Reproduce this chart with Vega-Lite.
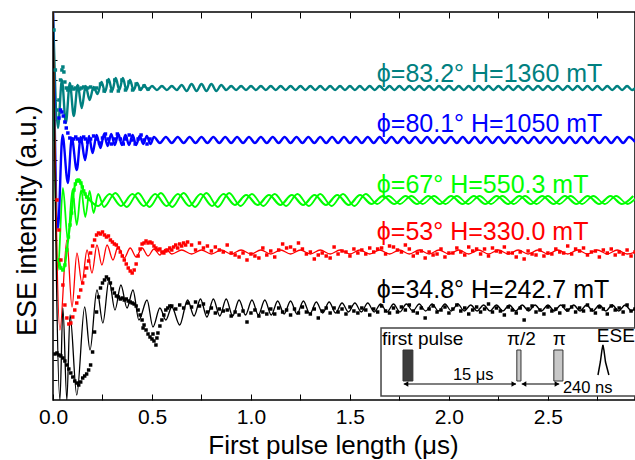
{
"$schema":"https://vega.github.io/schema/vega-lite/v6.json",
"width":582,"height":388,
"autosize":{"type":"none"},
"padding":{"left":53,"top":12,"right":0,"bottom":60},
"background":"white",
"config":{"view":{"stroke":"black","strokeWidth":1.5},"font":"Liberation Sans","axis":{"domain":false,"grid":false,"tickColor":"black","labelColor":"black","titleColor":"black","labelFont":"Liberation Sans","titleFont":"Liberation Sans","titleFontWeight":"normal"}},
"resolve":{"axis":{"x":"independent","y":"independent"}},
"datasets":{
"fit":[
{"s":"T","x":0,"y":388},{"s":"T","x":0.025,"y":272},{"s":"T","x":0.045,"y":320},{"s":"T","x":0.065,"y":277},{"s":"T","x":0.085,"y":317},{"s":"T","x":0.105,"y":284},{"s":"T","x":0.125,"y":315},{"s":"T","x":0.145,"y":292},{"s":"T","x":0.165,"y":314},{"s":"T","x":0.185,"y":300},{"s":"T","x":0.205,"y":313},{"s":"T","x":0.225,"y":306},{"s":"T","x":0.245,"y":318},{"s":"T","x":0.263,"y":308},{"s":"T","x":0.281,"y":321},{"s":"T","x":0.299,"y":309},{"s":"T","x":0.317,"y":322},{"s":"T","x":0.335,"y":310},{"s":"T","x":0.353,"y":322},{"s":"T","x":0.371,"y":310},{"s":"T","x":0.389,"y":320},{"s":"T","x":0.407,"y":310},{"s":"T","x":0.425,"y":317},{"s":"T","x":0.443,"y":310},{"s":"T","x":0.461,"y":315},{"s":"T","x":0.479,"y":310},
{"s":"T","x":0.5,"y":314},{"s":"T","x":0.525,"y":310},{"s":"T","x":0.55,"y":314},{"s":"T","x":0.575,"y":310},{"s":"T","x":0.6,"y":314},{"s":"T","x":0.625,"y":310},{"s":"T","x":0.65,"y":315},{"s":"T","x":0.675,"y":309},{"s":"T","x":0.7,"y":316},{"s":"T","x":0.725,"y":309},{"s":"T","x":0.75,"y":316},{"s":"T","x":0.775,"y":309},{"s":"T","x":0.8,"y":316},{"s":"T","x":0.825,"y":309},{"s":"T","x":0.85,"y":315},{"s":"T","x":0.875,"y":310},{"s":"T","x":0.9,"y":314},{"s":"T","x":0.925,"y":310},
{"s":"T","x":0.95,"y":314},{"s":"T","x":0.975,"y":310},{"s":"T","x":1.0,"y":314},{"s":"T","x":1.025,"y":310},{"s":"T","x":1.05,"y":314},{"s":"T","x":1.075,"y":310},{"s":"T","x":1.1,"y":314},{"s":"T","x":1.125,"y":310},{"s":"T","x":1.15,"y":314},{"s":"T","x":1.175,"y":310},{"s":"T","x":1.2,"y":314},{"s":"T","x":1.225,"y":310},{"s":"T","x":1.25,"y":314},{"s":"T","x":1.275,"y":310},{"s":"T","x":1.3,"y":314},{"s":"T","x":1.325,"y":310},{"s":"T","x":1.35,"y":314},{"s":"T","x":1.375,"y":310},{"s":"T","x":1.4,"y":314},{"s":"T","x":1.425,"y":310},{"s":"T","x":1.45,"y":314},{"s":"T","x":1.475,"y":310},{"s":"T","x":1.5,"y":314},{"s":"T","x":1.525,"y":310},{"s":"T","x":1.55,"y":314},{"s":"T","x":1.575,"y":310},{"s":"T","x":1.6,"y":314},{"s":"T","x":1.625,"y":310},{"s":"T","x":1.65,"y":314},{"s":"T","x":1.675,"y":310},{"s":"T","x":1.7,"y":314},{"s":"T","x":1.725,"y":310},{"s":"T","x":1.75,"y":314},{"s":"T","x":1.775,"y":310},{"s":"T","x":1.8,"y":314},{"s":"T","x":1.825,"y":310},{"s":"T","x":1.85,"y":314},{"s":"T","x":1.875,"y":310},{"s":"T","x":1.9,"y":314},{"s":"T","x":1.925,"y":310},{"s":"T","x":1.95,"y":314},{"s":"T","x":1.975,"y":310},{"s":"T","x":2.0,"y":314},{"s":"T","x":2.025,"y":310},{"s":"T","x":2.05,"y":314},{"s":"T","x":2.075,"y":310},{"s":"T","x":2.1,"y":314},{"s":"T","x":2.125,"y":310},{"s":"T","x":2.15,"y":314},{"s":"T","x":2.175,"y":310},{"s":"T","x":2.2,"y":314},{"s":"T","x":2.225,"y":310},{"s":"T","x":2.25,"y":314},{"s":"T","x":2.275,"y":310},{"s":"T","x":2.3,"y":314},{"s":"T","x":2.325,"y":310},{"s":"T","x":2.35,"y":314},{"s":"T","x":2.375,"y":310},{"s":"T","x":2.4,"y":314},{"s":"T","x":2.425,"y":310},{"s":"T","x":2.45,"y":314},{"s":"T","x":2.475,"y":310},{"s":"T","x":2.5,"y":314},{"s":"T","x":2.525,"y":310},{"s":"T","x":2.55,"y":314},{"s":"T","x":2.575,"y":310},{"s":"T","x":2.6,"y":314},{"s":"T","x":2.625,"y":310},{"s":"T","x":2.65,"y":314},{"s":"T","x":2.675,"y":310},{"s":"T","x":2.7,"y":314},{"s":"T","x":2.725,"y":310},{"s":"T","x":2.75,"y":314},{"s":"T","x":2.775,"y":310},{"s":"T","x":2.8,"y":314},{"s":"T","x":2.825,"y":310},{"s":"T","x":2.85,"y":314},{"s":"T","x":2.875,"y":310},{"s":"T","x":2.9,"y":314},{"s":"T","x":2.925,"y":310},{"s":"T","x":2.94,"y":312},
{"s":"B","x":0,"y":388},{"s":"B","x":0.025,"y":172},{"s":"B","x":0.048,"y":265},{"s":"B","x":0.075,"y":217},{"s":"B","x":0.095,"y":262},{"s":"B","x":0.12,"y":230},{"s":"B","x":0.14,"y":263},{"s":"B","x":0.162,"y":240},{"s":"B","x":0.182,"y":264},{"s":"B","x":0.2,"y":247},{"s":"B","x":0.22,"y":265},{"s":"B","x":0.24,"y":252},{"s":"B","x":0.258,"y":266},{"s":"B","x":0.276,"y":254},{"s":"B","x":0.294,"y":266},{"s":"B","x":0.312,"y":255},{"s":"B","x":0.33,"y":266},{"s":"B","x":0.348,"y":255},{"s":"B","x":0.366,"y":265},{"s":"B","x":0.384,"y":255},{"s":"B","x":0.402,"y":265},{"s":"B","x":0.42,"y":255},{"s":"B","x":0.438,"y":264},{"s":"B","x":0.456,"y":256},{"s":"B","x":0.474,"y":264},{"s":"B","x":0.492,"y":256},
{"s":"B","x":0.51,"y":263},{"s":"B","x":0.54,"y":257},{"s":"B","x":0.57,"y":263},{"s":"B","x":0.6,"y":257},{"s":"B","x":0.63,"y":263},{"s":"B","x":0.66,"y":257},{"s":"B","x":0.69,"y":263},{"s":"B","x":0.72,"y":257},{"s":"B","x":0.75,"y":263},{"s":"B","x":0.78,"y":257},{"s":"B","x":0.81,"y":263},{"s":"B","x":0.84,"y":257},{"s":"B","x":0.87,"y":263},{"s":"B","x":0.9,"y":257},{"s":"B","x":0.93,"y":263},{"s":"B","x":0.96,"y":257},{"s":"B","x":0.99,"y":263},{"s":"B","x":1.02,"y":257},{"s":"B","x":1.05,"y":263},{"s":"B","x":1.08,"y":257},{"s":"B","x":1.11,"y":263},{"s":"B","x":1.14,"y":257},{"s":"B","x":1.17,"y":263},{"s":"B","x":1.2,"y":257},{"s":"B","x":1.23,"y":263},{"s":"B","x":1.26,"y":257},{"s":"B","x":1.29,"y":263},{"s":"B","x":1.32,"y":257},{"s":"B","x":1.35,"y":263},{"s":"B","x":1.38,"y":257},{"s":"B","x":1.41,"y":263},{"s":"B","x":1.44,"y":257},{"s":"B","x":1.47,"y":263},{"s":"B","x":1.5,"y":257},{"s":"B","x":1.53,"y":263},{"s":"B","x":1.56,"y":257},{"s":"B","x":1.59,"y":263},{"s":"B","x":1.62,"y":257},{"s":"B","x":1.65,"y":263},{"s":"B","x":1.68,"y":257},{"s":"B","x":1.71,"y":263},{"s":"B","x":1.74,"y":257},{"s":"B","x":1.77,"y":263},{"s":"B","x":1.8,"y":257},{"s":"B","x":1.83,"y":263},{"s":"B","x":1.86,"y":257},{"s":"B","x":1.89,"y":263},{"s":"B","x":1.92,"y":257},{"s":"B","x":1.95,"y":263},{"s":"B","x":1.98,"y":257},{"s":"B","x":2.01,"y":263},{"s":"B","x":2.04,"y":257},{"s":"B","x":2.07,"y":263},{"s":"B","x":2.1,"y":257},{"s":"B","x":2.13,"y":263},{"s":"B","x":2.16,"y":257},{"s":"B","x":2.19,"y":263},{"s":"B","x":2.22,"y":257},{"s":"B","x":2.25,"y":263},{"s":"B","x":2.28,"y":257},{"s":"B","x":2.31,"y":263},{"s":"B","x":2.34,"y":257},{"s":"B","x":2.37,"y":263},{"s":"B","x":2.4,"y":257},{"s":"B","x":2.43,"y":263},{"s":"B","x":2.46,"y":257},{"s":"B","x":2.49,"y":263},{"s":"B","x":2.52,"y":257},{"s":"B","x":2.55,"y":263},{"s":"B","x":2.58,"y":257},{"s":"B","x":2.61,"y":263},{"s":"B","x":2.64,"y":257},{"s":"B","x":2.67,"y":263},{"s":"B","x":2.7,"y":257},{"s":"B","x":2.73,"y":263},{"s":"B","x":2.76,"y":257},{"s":"B","x":2.79,"y":263},{"s":"B","x":2.82,"y":257},{"s":"B","x":2.85,"y":263},{"s":"B","x":2.88,"y":257},{"s":"B","x":2.91,"y":263},{"s":"B","x":2.94,"y":258},
{"s":"G","x":0,"y":388},{"s":"G","x":0.025,"y":130},{"s":"G","x":0.05,"y":212},{"s":"G","x":0.075,"y":160},{"s":"G","x":0.098,"y":210},{"s":"G","x":0.12,"y":175},{"s":"G","x":0.142,"y":210},{"s":"G","x":0.163,"y":183},{"s":"G","x":0.185,"y":209},{"s":"G","x":0.205,"y":187},{"s":"G","x":0.228,"y":206},
{"s":"G","x":0.2575,"y":193},{"s":"G","x":0.315,"y":207},{"s":"G","x":0.3725,"y":193},{"s":"G","x":0.43,"y":207},{"s":"G","x":0.4875,"y":193},{"s":"G","x":0.545,"y":207},{"s":"G","x":0.6025,"y":193},{"s":"G","x":0.66,"y":207},{"s":"G","x":0.7175,"y":193},{"s":"G","x":0.775,"y":207},{"s":"G","x":0.8325,"y":193},{"s":"G","x":0.89,"y":207},{"s":"G","x":0.9475,"y":194},{"s":"G","x":1.005,"y":206},{"s":"G","x":1.0625,"y":194},{"s":"G","x":1.12,"y":206},{"s":"G","x":1.1775,"y":194},{"s":"G","x":1.235,"y":206},{"s":"G","x":1.2925,"y":194},{"s":"G","x":1.35,"y":206},{"s":"G","x":1.4075,"y":194},{"s":"G","x":1.465,"y":206},{"s":"G","x":1.5225,"y":194},{"s":"G","x":1.58,"y":206},{"s":"G","x":1.6375,"y":196},{"s":"G","x":1.695,"y":204},{"s":"G","x":1.7525,"y":196},{"s":"G","x":1.81,"y":204},{"s":"G","x":1.8675,"y":196},{"s":"G","x":1.925,"y":204},{"s":"G","x":1.9825,"y":196},{"s":"G","x":2.04,"y":204},{"s":"G","x":2.0975,"y":196},{"s":"G","x":2.155,"y":204},{"s":"G","x":2.2125,"y":196},{"s":"G","x":2.27,"y":204},{"s":"G","x":2.3275,"y":196},{"s":"G","x":2.385,"y":204},{"s":"G","x":2.4425,"y":196},{"s":"G","x":2.5,"y":204},{"s":"G","x":2.5575,"y":196},{"s":"G","x":2.615,"y":204},{"s":"G","x":2.6725,"y":196},{"s":"G","x":2.73,"y":204},{"s":"G","x":2.7875,"y":196},{"s":"G","x":2.845,"y":204},{"s":"G","x":2.9025,"y":196},{"s":"G","x":2.94,"y":201},
{"s":"R","x":0,"y":388},{"s":"R","x":0.035,"y":70},{"s":"R","x":0.07,"y":160},{"s":"R","x":0.096,"y":93},{"s":"R","x":0.121,"y":147},{"s":"R","x":0.146,"y":117},{"s":"R","x":0.172,"y":150},{"s":"R","x":0.197,"y":127},{"s":"R","x":0.222,"y":155},{"s":"R","x":0.247,"y":135},{"s":"R","x":0.273,"y":155},{"s":"R","x":0.303,"y":140},{"s":"R","x":0.328,"y":153},{"s":"R","x":0.36,"y":142},{"s":"R","x":0.39,"y":152},{"s":"R","x":0.42,"y":143},{"s":"R","x":0.45,"y":152},{"s":"R","x":0.48,"y":144},{"s":"R","x":0.51,"y":151},{"s":"R","x":0.54,"y":145},{"s":"R","x":0.57,"y":151},
{"s":"R","x":0.6,"y":146},{"s":"R","x":0.65,"y":150},{"s":"R","x":0.7,"y":146},{"s":"R","x":0.75,"y":150},{"s":"R","x":0.8,"y":146},{"s":"R","x":0.85,"y":150},{"s":"R","x":0.9,"y":146},{"s":"R","x":0.95,"y":150},{"s":"R","x":1.0,"y":146},{"s":"R","x":1.05,"y":150},{"s":"R","x":1.1,"y":146},{"s":"R","x":1.15,"y":150},{"s":"R","x":1.2,"y":146},{"s":"R","x":1.25,"y":150},{"s":"R","x":1.3,"y":146},{"s":"R","x":1.35,"y":150},{"s":"R","x":1.4,"y":146},{"s":"R","x":1.45,"y":150},{"s":"R","x":1.5,"y":146},{"s":"R","x":1.55,"y":150},{"s":"R","x":1.6,"y":146},{"s":"R","x":1.65,"y":150},{"s":"R","x":1.7,"y":146},{"s":"R","x":1.75,"y":150},{"s":"R","x":1.8,"y":146},{"s":"R","x":1.85,"y":150},{"s":"R","x":1.9,"y":146},{"s":"R","x":1.95,"y":150},{"s":"R","x":2.0,"y":146},{"s":"R","x":2.05,"y":150},{"s":"R","x":2.1,"y":146},{"s":"R","x":2.15,"y":150},{"s":"R","x":2.2,"y":146},{"s":"R","x":2.25,"y":150},{"s":"R","x":2.3,"y":146},{"s":"R","x":2.35,"y":150},{"s":"R","x":2.4,"y":146},{"s":"R","x":2.45,"y":150},{"s":"R","x":2.5,"y":146},{"s":"R","x":2.55,"y":150},{"s":"R","x":2.6,"y":146},{"s":"R","x":2.65,"y":150},{"s":"R","x":2.7,"y":146},{"s":"R","x":2.75,"y":150},{"s":"R","x":2.8,"y":146},{"s":"R","x":2.85,"y":150},{"s":"R","x":2.9,"y":146},{"s":"R","x":2.94,"y":148},
{"s":"K","x":0,"y":388},{"s":"K","x":0.035,"y":0},{"s":"K","x":0.05,"y":92},{"s":"K","x":0.07,"y":0},{"s":"K","x":0.086,"y":85},{"s":"K","x":0.12,"y":5},{"s":"K","x":0.16,"y":93},{"s":"K","x":0.187,"y":50},{"s":"K","x":0.222,"y":110},{"s":"K","x":0.252,"y":77},{"s":"K","x":0.283,"y":120},{"s":"K","x":0.313,"y":90},{"s":"K","x":0.343,"y":115},{"s":"K","x":0.374,"y":92},{"s":"K","x":0.404,"y":110},{"s":"K","x":0.434,"y":80},{"s":"K","x":0.475,"y":100},{"s":"K","x":0.505,"y":73},{"s":"K","x":0.54,"y":92},{"s":"K","x":0.57,"y":80},{"s":"K","x":0.6,"y":93},{"s":"K","x":0.64,"y":75},{"s":"K","x":0.68,"y":100},
{"s":"K","x":0.7125,"y":84},{"s":"K","x":0.745,"y":101},{"s":"K","x":0.7775,"y":83},{"s":"K","x":0.81,"y":101},{"s":"K","x":0.8425,"y":84},{"s":"K","x":0.875,"y":101},{"s":"K","x":0.9075,"y":84},{"s":"K","x":0.94,"y":100},{"s":"K","x":0.9725,"y":85},{"s":"K","x":1.005,"y":100},{"s":"K","x":1.0375,"y":85},{"s":"K","x":1.07,"y":100},{"s":"K","x":1.1025,"y":85},{"s":"K","x":1.135,"y":99},{"s":"K","x":1.1675,"y":86},{"s":"K","x":1.2,"y":99},{"s":"K","x":1.2325,"y":86},{"s":"K","x":1.265,"y":99},{"s":"K","x":1.2975,"y":86},{"s":"K","x":1.33,"y":98},{"s":"K","x":1.3625,"y":87},{"s":"K","x":1.395,"y":98},{"s":"K","x":1.4275,"y":87},{"s":"K","x":1.46,"y":97},{"s":"K","x":1.4925,"y":88},{"s":"K","x":1.525,"y":97},{"s":"K","x":1.5575,"y":88},{"s":"K","x":1.59,"y":97},{"s":"K","x":1.6225,"y":88},{"s":"K","x":1.655,"y":96},{"s":"K","x":1.6875,"y":88},{"s":"K","x":1.72,"y":96},{"s":"K","x":1.7525,"y":88},{"s":"K","x":1.785,"y":96},{"s":"K","x":1.8175,"y":89},{"s":"K","x":1.85,"y":96},{"s":"K","x":1.8825,"y":89},{"s":"K","x":1.915,"y":96},{"s":"K","x":1.9475,"y":89},{"s":"K","x":1.98,"y":96},{"s":"K","x":2.0125,"y":89},{"s":"K","x":2.045,"y":96},{"s":"K","x":2.0775,"y":89},{"s":"K","x":2.11,"y":95},{"s":"K","x":2.1425,"y":89},{"s":"K","x":2.175,"y":95},{"s":"K","x":2.2075,"y":89},{"s":"K","x":2.24,"y":95},{"s":"K","x":2.2725,"y":89},{"s":"K","x":2.305,"y":95},{"s":"K","x":2.3375,"y":89},{"s":"K","x":2.37,"y":95},{"s":"K","x":2.4025,"y":89},{"s":"K","x":2.435,"y":95},{"s":"K","x":2.4675,"y":89},{"s":"K","x":2.5,"y":95},{"s":"K","x":2.5325,"y":89},{"s":"K","x":2.565,"y":95},{"s":"K","x":2.5975,"y":89},{"s":"K","x":2.63,"y":95},{"s":"K","x":2.6625,"y":89},{"s":"K","x":2.695,"y":95},{"s":"K","x":2.7275,"y":89},{"s":"K","x":2.76,"y":95},{"s":"K","x":2.7925,"y":89},{"s":"K","x":2.825,"y":95},{"s":"K","x":2.8575,"y":89},{"s":"K","x":2.89,"y":95},{"s":"K","x":2.9225,"y":89},{"s":"K","x":2.94,"y":92}
],
"dat":[
{"s":"T","x":0.005,"y":370},{"s":"T","x":0.012,"y":330},{"s":"T","x":0.02,"y":290},{"s":"T","x":0.03,"y":300},{"s":"T","x":0.038,"y":320},{"s":"T","x":0.045,"y":330},{"s":"T","x":0.05,"y":333},{"s":"T","x":0.055,"y":328},{"s":"T","x":0.06,"y":318},{"s":"T","x":0.067,"y":312},{"s":"T","x":0.075,"y":310},{"s":"T","x":0.085,"y":312},{"s":"T","x":0.095,"y":313},{"s":"T","x":0.105,"y":311},{"s":"T","x":0.115,"y":312},{"s":"T","x":0.125,"y":313},{"s":"T","x":0.135,"y":311},{"s":"T","x":0.145,"y":312},{"s":"T","x":0.155,"y":313},{"s":"T","x":0.165,"y":311},{"s":"T","x":0.175,"y":312},{"s":"T","x":0.19,"y":313},{"s":"T","x":0.205,"y":311},{"s":"T","x":0.22,"y":312},{"s":"T","x":0.24,"y":316},{"s":"T","x":0.258,"y":309},{"s":"T","x":0.276,"y":319},{"s":"T","x":0.294,"y":309},{"s":"T","x":0.312,"y":320},{"s":"T","x":0.33,"y":309},{"s":"T","x":0.348,"y":320},{"s":"T","x":0.366,"y":310},{"s":"T","x":0.384,"y":318},{"s":"T","x":0.402,"y":310},{"s":"T","x":0.42,"y":316},{"s":"T","x":0.44,"y":311},{"s":"T","x":0.46,"y":314},{"s":"T","x":0.48,"y":311},
{"s":"B","x":0.03,"y":282},{"s":"B","x":0.038,"y":290},{"s":"B","x":0.045,"y":288},{"s":"B","x":0.052,"y":284},{"s":"B","x":0.06,"y":278},{"s":"B","x":0.067,"y":272},{"s":"B","x":0.075,"y":267},{"s":"B","x":0.085,"y":262},{"s":"B","x":0.095,"y":259},{"s":"B","x":0.105,"y":261},{"s":"B","x":0.115,"y":263},{"s":"B","x":0.125,"y":261},{"s":"B","x":0.135,"y":259},{"s":"B","x":0.145,"y":261},{"s":"B","x":0.155,"y":263},{"s":"B","x":0.165,"y":261},{"s":"B","x":0.175,"y":258},{"s":"B","x":0.19,"y":261},{"s":"B","x":0.205,"y":264},{"s":"B","x":0.22,"y":261},{"s":"B","x":0.235,"y":257},{"s":"B","x":0.25,"y":262},{"s":"B","x":0.265,"y":266},{"s":"B","x":0.28,"y":261},{"s":"B","x":0.295,"y":256},{"s":"B","x":0.31,"y":261},{"s":"B","x":0.325,"y":266},{"s":"B","x":0.34,"y":261},{"s":"B","x":0.355,"y":256},{"s":"B","x":0.37,"y":261},{"s":"B","x":0.385,"y":265},{"s":"B","x":0.4,"y":260},{"s":"B","x":0.415,"y":256},{"s":"B","x":0.43,"y":261},{"s":"B","x":0.445,"y":265},{"s":"B","x":0.46,"y":260},{"s":"B","x":0.475,"y":256},{"s":"B","x":0.49,"y":261},
{"s":"G","x":0.03,"y":140},{"s":"G","x":0.04,"y":132},{"s":"G","x":0.05,"y":130},{"s":"G","x":0.06,"y":135},{"s":"G","x":0.07,"y":150},{"s":"G","x":0.078,"y":163},{"s":"G","x":0.086,"y":175},{"s":"G","x":0.094,"y":187},{"s":"G","x":0.1,"y":200},{"s":"G","x":0.106,"y":210},{"s":"G","x":0.113,"y":216},{"s":"G","x":0.12,"y":219},{"s":"G","x":0.127,"y":220},{"s":"G","x":0.134,"y":219},{"s":"G","x":0.141,"y":217},{"s":"G","x":0.148,"y":213},{"s":"G","x":0.155,"y":209},{"s":"G","x":0.162,"y":206},{"s":"G","x":0.17,"y":203},{"s":"G","x":0.18,"y":201},
{"s":"G","x":0.2285,"y":194},{"s":"G","x":0.286,"y":206},{"s":"G","x":0.3435,"y":194},{"s":"G","x":0.401,"y":206},{"s":"G","x":0.4585,"y":194},{"s":"G","x":0.516,"y":206},{"s":"G","x":0.5735,"y":194},{"s":"G","x":0.631,"y":206},{"s":"G","x":0.6885,"y":194},{"s":"G","x":0.746,"y":206},{"s":"G","x":0.8035,"y":194},{"s":"G","x":0.861,"y":206},{"s":"G","x":0.9185,"y":195},{"s":"G","x":0.976,"y":205},{"s":"G","x":1.0335,"y":195},{"s":"G","x":1.091,"y":205},{"s":"G","x":1.1485,"y":195},{"s":"G","x":1.206,"y":205},{"s":"G","x":1.2635,"y":195},{"s":"G","x":1.321,"y":205},{"s":"G","x":1.3785,"y":195},{"s":"G","x":1.436,"y":205},{"s":"G","x":1.4935,"y":195},{"s":"G","x":1.551,"y":205},{"s":"G","x":1.6085,"y":196},{"s":"G","x":1.666,"y":204},{"s":"G","x":1.7235,"y":196},{"s":"G","x":1.781,"y":204},{"s":"G","x":1.8385,"y":196},{"s":"G","x":1.896,"y":204},{"s":"G","x":1.9535,"y":196},{"s":"G","x":2.011,"y":204},{"s":"G","x":2.0685,"y":196},{"s":"G","x":2.126,"y":204},{"s":"G","x":2.1835,"y":196},{"s":"G","x":2.241,"y":204},{"s":"G","x":2.2985,"y":196},{"s":"G","x":2.356,"y":204},{"s":"G","x":2.4135,"y":196},{"s":"G","x":2.471,"y":204},{"s":"G","x":2.5285,"y":196},{"s":"G","x":2.586,"y":204},{"s":"G","x":2.6435,"y":196},{"s":"G","x":2.701,"y":204},{"s":"G","x":2.7585,"y":196},{"s":"G","x":2.816,"y":204},{"s":"G","x":2.8735,"y":196},{"s":"G","x":2.931,"y":204},
{"s":"R","x":0.02,"y":200},{"s":"R","x":0.03,"y":170},{"s":"R","x":0.04,"y":140},{"s":"R","x":0.05,"y":115},{"s":"R","x":0.06,"y":95},{"s":"R","x":0.07,"y":82},{"s":"R","x":0.08,"y":76},{"s":"R","x":0.09,"y":77},{"s":"R","x":0.1,"y":83},{"s":"R","x":0.11,"y":90},{"s":"R","x":0.12,"y":97},{"s":"R","x":0.13,"y":103},{"s":"R","x":0.14,"y":110},{"s":"R","x":0.15,"y":117},{"s":"R","x":0.16,"y":124},{"s":"R","x":0.17,"y":132},{"s":"R","x":0.18,"y":139},{"s":"R","x":0.19,"y":147},{"s":"R","x":0.2,"y":154},{"s":"R","x":0.21,"y":160},{"s":"R","x":0.22,"y":165},{"s":"R","x":0.23,"y":167},{"s":"R","x":0.24,"y":166},{"s":"R","x":0.25,"y":168},{"s":"R","x":0.26,"y":165},{"s":"R","x":0.27,"y":163},{"s":"R","x":0.28,"y":164},{"s":"R","x":0.29,"y":160},{"s":"R","x":0.3,"y":158},{"s":"R","x":0.31,"y":156},{"s":"R","x":0.32,"y":155},{"s":"R","x":0.33,"y":152},{"s":"R","x":0.34,"y":148},{"s":"R","x":0.35,"y":144},{"s":"R","x":0.36,"y":140},{"s":"R","x":0.37,"y":136},{"s":"R","x":0.38,"y":132},{"s":"R","x":0.39,"y":129},{"s":"R","x":0.4,"y":127},{"s":"R","x":0.41,"y":130},{"s":"R","x":0.42,"y":136},{"s":"R","x":0.43,"y":144},{"s":"R","x":0.44,"y":151},{"s":"R","x":0.45,"y":156},{"s":"R","x":0.46,"y":157},{"s":"R","x":0.47,"y":159},{"s":"R","x":0.48,"y":157},{"s":"R","x":0.49,"y":158},{"s":"R","x":0.5,"y":157},{"s":"R","x":0.51,"y":154},{"s":"R","x":0.52,"y":152},{"s":"R","x":0.53,"y":150},{"s":"R","x":0.54,"y":151},{"s":"R","x":0.55,"y":148},{"s":"R","x":0.56,"y":147},{"s":"R","x":0.57,"y":149},{"s":"R","x":0.58,"y":150},{"s":"R","x":0.59,"y":152},{"s":"R","x":0.6,"y":150},{"s":"R","x":0.61,"y":153},{"s":"R","x":0.62,"y":155},{"s":"R","x":0.63,"y":152},{"s":"R","x":0.64,"y":156},{"s":"R","x":0.65,"y":154},{"s":"R","x":0.66,"y":157},{"s":"R","x":0.67,"y":155},{"s":"R","x":0.68,"y":158},
{"s":"R","x":0.7,"y":155},{"s":"R","x":0.72,"y":150},{"s":"R","x":0.74,"y":157},{"s":"R","x":0.76,"y":152},{"s":"R","x":0.78,"y":154},{"s":"R","x":0.8,"y":149},{"s":"R","x":0.82,"y":153},{"s":"R","x":0.84,"y":150},{"s":"R","x":0.86,"y":148},{"s":"R","x":0.88,"y":155},{"s":"R","x":0.9,"y":147},{"s":"R","x":0.92,"y":145},{"s":"R","x":0.94,"y":143},{"s":"R","x":0.96,"y":147},{"s":"R","x":0.98,"y":140},{"s":"R","x":1.0,"y":146},{"s":"R","x":1.02,"y":144},{"s":"R","x":1.04,"y":142},{"s":"R","x":1.06,"y":152},{"s":"R","x":1.08,"y":145},{"s":"R","x":1.1,"y":149},{"s":"R","x":1.12,"y":143},{"s":"R","x":1.14,"y":150},{"s":"R","x":1.16,"y":156},{"s":"R","x":1.18,"y":152},{"s":"R","x":1.2,"y":153},{"s":"R","x":1.22,"y":150},{"s":"R","x":1.24,"y":157},{"s":"R","x":1.26,"y":151},{"s":"R","x":1.28,"y":146},{"s":"R","x":1.3,"y":148},{"s":"R","x":1.32,"y":141},{"s":"R","x":1.34,"y":145},{"s":"R","x":1.36,"y":147},{"s":"R","x":1.38,"y":144},{"s":"R","x":1.4,"y":142},{"s":"R","x":1.42,"y":153},{"s":"R","x":1.44,"y":146},{"s":"R","x":1.46,"y":149},{"s":"R","x":1.48,"y":148},{"s":"R","x":1.5,"y":144},{"s":"R","x":1.52,"y":151},{"s":"R","x":1.54,"y":147},{"s":"R","x":1.56,"y":150},{"s":"R","x":1.58,"y":146},{"s":"R","x":1.6,"y":152},{"s":"R","x":1.62,"y":148},{"s":"R","x":1.64,"y":151},{"s":"R","x":1.66,"y":152},{"s":"R","x":1.68,"y":146},{"s":"R","x":1.7,"y":154},{"s":"R","x":1.72,"y":153},{"s":"R","x":1.74,"y":150},{"s":"R","x":1.76,"y":148},{"s":"R","x":1.78,"y":155},{"s":"R","x":1.8,"y":151},{"s":"R","x":1.82,"y":144},{"s":"R","x":1.84,"y":147},{"s":"R","x":1.86,"y":149},{"s":"R","x":1.88,"y":142},{"s":"R","x":1.9,"y":148},{"s":"R","x":1.92,"y":145},{"s":"R","x":1.94,"y":146},{"s":"R","x":1.96,"y":151},{"s":"R","x":1.98,"y":143},{"s":"R","x":2.0,"y":147},{"s":"R","x":2.02,"y":147},{"s":"R","x":2.04,"y":152},{"s":"R","x":2.06,"y":148},{"s":"R","x":2.08,"y":145},{"s":"R","x":2.1,"y":153},{"s":"R","x":2.12,"y":149},{"s":"R","x":2.14,"y":151},{"s":"R","x":2.16,"y":146},{"s":"R","x":2.18,"y":151},{"s":"R","x":2.2,"y":144},{"s":"R","x":2.22,"y":152},{"s":"R","x":2.24,"y":149},{"s":"R","x":2.26,"y":148},{"s":"R","x":2.28,"y":153},{"s":"R","x":2.3,"y":147},{"s":"R","x":2.32,"y":147},{"s":"R","x":2.34,"y":143},{"s":"R","x":2.36,"y":148},{"s":"R","x":2.38,"y":141},{"s":"R","x":2.4,"y":149},{"s":"R","x":2.42,"y":146},{"s":"R","x":2.44,"y":145},{"s":"R","x":2.46,"y":150},{"s":"R","x":2.48,"y":144},{"s":"R","x":2.5,"y":147},{"s":"R","x":2.52,"y":146},{"s":"R","x":2.54,"y":151},{"s":"R","x":2.56,"y":148},{"s":"R","x":2.58,"y":147},{"s":"R","x":2.6,"y":154},{"s":"R","x":2.62,"y":146},{"s":"R","x":2.64,"y":151},{"s":"R","x":2.66,"y":149},{"s":"R","x":2.68,"y":152},{"s":"R","x":2.7,"y":145},{"s":"R","x":2.72,"y":148},{"s":"R","x":2.74,"y":149},{"s":"R","x":2.76,"y":143},{"s":"R","x":2.78,"y":150},{"s":"R","x":2.8,"y":147},{"s":"R","x":2.82,"y":151},{"s":"R","x":2.84,"y":145},{"s":"R","x":2.86,"y":148},{"s":"R","x":2.88,"y":146},{"s":"R","x":2.9,"y":150},{"s":"R","x":2.92,"y":144},{"s":"R","x":2.94,"y":148},
{"s":"K","x":0.01,"y":46},{"s":"K","x":0.02,"y":47},{"s":"K","x":0.03,"y":45},{"s":"K","x":0.04,"y":44},{"s":"K","x":0.05,"y":42},{"s":"K","x":0.06,"y":39},{"s":"K","x":0.07,"y":35},{"s":"K","x":0.08,"y":31},{"s":"K","x":0.09,"y":27},{"s":"K","x":0.1,"y":23},{"s":"K","x":0.11,"y":19},{"s":"K","x":0.12,"y":17},{"s":"K","x":0.13,"y":15},{"s":"K","x":0.14,"y":18},{"s":"K","x":0.15,"y":22},{"s":"K","x":0.16,"y":24},{"s":"K","x":0.17,"y":26},{"s":"K","x":0.18,"y":30},{"s":"K","x":0.19,"y":35},{"s":"K","x":0.2,"y":48},{"s":"K","x":0.21,"y":68},{"s":"K","x":0.22,"y":88},{"s":"K","x":0.23,"y":103},{"s":"K","x":0.24,"y":112},{"s":"K","x":0.25,"y":117},{"s":"K","x":0.26,"y":120},{"s":"K","x":0.27,"y":123},{"s":"K","x":0.28,"y":121},{"s":"K","x":0.29,"y":117},{"s":"K","x":0.3,"y":111},{"s":"K","x":0.31,"y":107},{"s":"K","x":0.32,"y":104},{"s":"K","x":0.33,"y":103},{"s":"K","x":0.34,"y":101},{"s":"K","x":0.35,"y":102},{"s":"K","x":0.36,"y":100},{"s":"K","x":0.37,"y":101},{"s":"K","x":0.38,"y":99},{"s":"K","x":0.39,"y":98},{"s":"K","x":0.4,"y":97},{"s":"K","x":0.41,"y":96},{"s":"K","x":0.42,"y":94},{"s":"K","x":0.43,"y":90},{"s":"K","x":0.44,"y":85},{"s":"K","x":0.45,"y":80},{"s":"K","x":0.455,"y":72},{"s":"K","x":0.46,"y":75},{"s":"K","x":0.47,"y":70},{"s":"K","x":0.48,"y":66},{"s":"K","x":0.49,"y":63},{"s":"K","x":0.5,"y":61},{"s":"K","x":0.505,"y":66},{"s":"K","x":0.51,"y":59},{"s":"K","x":0.52,"y":55},{"s":"K","x":0.525,"y":62},{"s":"K","x":0.53,"y":67},{"s":"K","x":0.54,"y":74},{"s":"K","x":0.55,"y":80},{"s":"K","x":0.56,"y":85},{"s":"K","x":0.57,"y":90},{"s":"K","x":0.58,"y":92},{"s":"K","x":0.59,"y":94},
{"s":"K","x":0.6,"y":94},{"s":"K","x":0.62,"y":91},{"s":"K","x":0.64,"y":95},{"s":"K","x":0.66,"y":92},{"s":"K","x":0.68,"y":97},{"s":"K","x":0.7,"y":93},{"s":"K","x":0.72,"y":98},{"s":"K","x":0.74,"y":94},{"s":"K","x":0.76,"y":96},{"s":"K","x":0.78,"y":88},{"s":"K","x":0.8,"y":92},{"s":"K","x":0.82,"y":87},{"s":"K","x":0.84,"y":91},{"s":"K","x":0.86,"y":89},{"s":"K","x":0.88,"y":90},{"s":"K","x":0.9,"y":84},{"s":"K","x":0.92,"y":88},{"s":"K","x":0.94,"y":85},{"s":"K","x":0.96,"y":89},{"s":"K","x":0.98,"y":78},{"s":"K","x":1.0,"y":87},{"s":"K","x":1.02,"y":90},{"s":"K","x":1.04,"y":84},{"s":"K","x":1.06,"y":88},{"s":"K","x":1.08,"y":86},{"s":"K","x":1.1,"y":91},{"s":"K","x":1.12,"y":86},{"s":"K","x":1.14,"y":92},{"s":"K","x":1.16,"y":88},{"s":"K","x":1.18,"y":90},{"s":"K","x":1.2,"y":85},{"s":"K","x":1.22,"y":91},{"s":"K","x":1.24,"y":87},{"s":"K","x":1.26,"y":93},{"s":"K","x":1.28,"y":88},{"s":"K","x":1.3,"y":86},{"s":"K","x":1.32,"y":91},{"s":"K","x":1.34,"y":82},{"s":"K","x":1.36,"y":89},{"s":"K","x":1.38,"y":92},{"s":"K","x":1.4,"y":87},{"s":"K","x":1.42,"y":92},{"s":"K","x":1.44,"y":88},{"s":"K","x":1.46,"y":91},{"s":"K","x":1.48,"y":86},{"s":"K","x":1.5,"y":93},{"s":"K","x":1.52,"y":89},{"s":"K","x":1.54,"y":87},{"s":"K","x":1.56,"y":92},{"s":"K","x":1.58,"y":90},{"s":"K","x":1.6,"y":85},{"s":"K","x":1.62,"y":91},{"s":"K","x":1.64,"y":88},{"s":"K","x":1.66,"y":94},{"s":"K","x":1.68,"y":89},{"s":"K","x":1.7,"y":87},{"s":"K","x":1.72,"y":92},{"s":"K","x":1.74,"y":88},{"s":"K","x":1.76,"y":93},{"s":"K","x":1.78,"y":90},{"s":"K","x":1.8,"y":95},{"s":"K","x":1.82,"y":89},{"s":"K","x":1.84,"y":87},{"s":"K","x":1.86,"y":92},{"s":"K","x":1.88,"y":82},{"s":"K","x":1.9,"y":91},{"s":"K","x":1.92,"y":94},{"s":"K","x":1.94,"y":88},{"s":"K","x":1.96,"y":90},{"s":"K","x":1.98,"y":93},{"s":"K","x":2.0,"y":87},{"s":"K","x":2.02,"y":91},{"s":"K","x":2.04,"y":95},{"s":"K","x":2.06,"y":89},{"s":"K","x":2.08,"y":92},{"s":"K","x":2.1,"y":86},{"s":"K","x":2.12,"y":90},{"s":"K","x":2.14,"y":93},{"s":"K","x":2.16,"y":88},{"s":"K","x":2.18,"y":91},{"s":"K","x":2.2,"y":96},{"s":"K","x":2.22,"y":88},{"s":"K","x":2.24,"y":92},{"s":"K","x":2.26,"y":89},{"s":"K","x":2.28,"y":85},{"s":"K","x":2.3,"y":93},{"s":"K","x":2.32,"y":90},{"s":"K","x":2.34,"y":87},{"s":"K","x":2.36,"y":92},{"s":"K","x":2.38,"y":80},{"s":"K","x":2.4,"y":91},{"s":"K","x":2.42,"y":94},{"s":"K","x":2.44,"y":88},{"s":"K","x":2.46,"y":90},{"s":"K","x":2.48,"y":86},{"s":"K","x":2.5,"y":93},{"s":"K","x":2.52,"y":89},{"s":"K","x":2.54,"y":91},{"s":"K","x":2.56,"y":87},{"s":"K","x":2.58,"y":94},{"s":"K","x":2.6,"y":90},{"s":"K","x":2.62,"y":93},{"s":"K","x":2.64,"y":88},{"s":"K","x":2.66,"y":92},{"s":"K","x":2.68,"y":89},{"s":"K","x":2.7,"y":95},{"s":"K","x":2.72,"y":90},{"s":"K","x":2.74,"y":87},{"s":"K","x":2.76,"y":93},{"s":"K","x":2.78,"y":91},{"s":"K","x":2.8,"y":86},{"s":"K","x":2.82,"y":94},{"s":"K","x":2.84,"y":90},{"s":"K","x":2.86,"y":92},{"s":"K","x":2.88,"y":88},{"s":"K","x":2.9,"y":95},{"s":"K","x":2.92,"y":89},{"s":"K","x":2.94,"y":91}
],
"lab":[
{"s":"T","x":1.636,"y":318,"t":"ϕ=83.2° H=1360 mT"},
{"s":"B","x":1.636,"y":268,"t":"ϕ=80.1° H=1050 mT"},
{"s":"G","x":1.636,"y":207,"t":"ϕ=67° H=550.3 mT"},
{"s":"R","x":1.636,"y":160,"t":"ϕ=53° H=330.0 mT"},
{"s":"K","x":1.636,"y":102,"t":"ϕ=34.8° H=242.7 mT"}
],
"box":[{"x":1.657,"x2":2.99,"y":4,"y2":72}],
"pulse":[{"k":"a","x":1.768,"x2":1.818,"y":19,"y2":50},{"k":"b","x":2.343,"x2":2.364,"y":19,"y2":50},{"k":"c","x":2.53,"x2":2.576,"y":19,"y2":50}],
"ese":[{"x":2.753,"y":25},{"x":2.765,"y":38},{"x":2.773,"y":50},{"x":2.778,"y":55},{"x":2.783,"y":50},{"x":2.791,"y":38},{"x":2.808,"y":25}],
"arrow":[{"a":"1","x":1.772,"y":16},{"a":"1","x":2.339,"y":16},{"a":"2","x":2.368,"y":16},{"a":"2","x":2.557,"y":16}],
"heads":[{"d":"l","x":1.783,"y":16},{"d":"r","x":2.328,"y":16},{"d":"l","x":2.379,"y":16},{"d":"r","x":2.546,"y":16}],
"itxt":[{"x":1.662,"y":55,"t":"first pulse"},{"x":2.293,"y":55,"t":"π/2"},{"x":2.525,"y":55,"t":"π"},{"x":2.747,"y":58,"t":"ESE"}],
"itxt2":[{"x":2.02,"y":20,"t":"15 μs"},{"x":2.576,"y":7,"t":"240 ns"}]
},
"layer":[
{"data":{"name":"fit"},"transform":[{"filter":{"field":"s","oneOf":["T","B"]}}],
 "mark":{"type":"line","interpolate":"monotone","strokeWidth":2.4,"clip":true},
 "encoding":{
  "x":{"field":"x","type":"quantitative","scale":{"domain":[0,2.94],"nice":false},
   "axis":{"orient":"bottom","values":[0,0.25,0.5,0.75,1,1.25,1.5,1.75,2,2.25,2.5,2.75],"tickSize":-6,"tickWidth":1,"labelExpr":"datum.value % 0.5 == 0 ? format(datum.value, '.1f') : ''","labelFontSize":21,"labelBaseline":"alphabetic","labelPadding":29,"labelFlush":false,"title":"First pulse length (μs)","titleFontSize":26,"titleX":280,"titleY":53,"titleBaseline":"alphabetic","titleAlign":"center"}},
  "y":{"field":"y","type":"quantitative","scale":{"domain":[0,388],"nice":false},
   "axis":{"orient":"left","values":[20,40,60,80,100,120,140,160,180,200,220,240,260,280,300,320,340,360,380],"tickSize":-4,"tickWidth":1,"labels":false,"title":"ESE intensity (a.u.)","titleFontSize":27,"titleX":-18,"titleY":208,"titleAngle":270,"titleBaseline":"alphabetic","titleAlign":"center"}},
  "color":{"field":"s","type":"nominal","scale":{"domain":["T","B","G","R","K"],"range":["#008080","#0000ff","#00ff00","#ff0000","#000000"]},"legend":null}}},
{"data":{"name":"fit"},"transform":[{"filter":{"field":"s","equal":"G"}}],
 "mark":{"type":"line","interpolate":"monotone","strokeWidth":1.8,"clip":true},
 "encoding":{"x":{"field":"x","type":"quantitative","axis":null},"y":{"field":"y","type":"quantitative","axis":null},"color":{"field":"s","type":"nominal","legend":null}}},
{"data":{"name":"fit"},"transform":[{"filter":{"field":"s","oneOf":["R","K"]}}],
 "mark":{"type":"line","interpolate":"monotone","strokeWidth":1.3,"clip":true},
 "encoding":{"x":{"field":"x","type":"quantitative","axis":null},"y":{"field":"y","type":"quantitative","axis":null},"color":{"field":"s","type":"nominal","legend":null}}},
{"data":{"name":"dat"},"transform":[{"filter":{"field":"s","equal":"G"}}],
 "mark":{"type":"line","interpolate":"monotone","strokeWidth":2.2,"clip":true},
 "encoding":{"x":{"field":"x","type":"quantitative","axis":null},"y":{"field":"y","type":"quantitative","axis":null},"color":{"field":"s","type":"nominal","legend":null}}},
{"data":{"name":"dat"},"transform":[{"filter":"datum.s != 'G' || datum.x < 0.2"}],
 "mark":{"type":"square","size":12,"filled":true,"opacity":1,"clip":true},
 "encoding":{"x":{"field":"x","type":"quantitative","axis":null},"y":{"field":"y","type":"quantitative","axis":null},"color":{"field":"s","type":"nominal","legend":null}}},
{"data":{"name":"lab"},
 "mark":{"type":"text","align":"left","baseline":"alphabetic","fontSize":25,"font":"Liberation Sans"},
 "encoding":{"x":{"field":"x","type":"quantitative",
   "axis":{"orient":"top","values":[0,0.25,0.5,0.75,1,1.25,1.5,1.75,2,2.25,2.5,2.75],"tickSize":-6,"tickWidth":1,"labels":false,"title":null}},
  "y":{"field":"y","type":"quantitative","axis":null},"text":{"field":"t"},"color":{"field":"s","type":"nominal","legend":null}}},
{"data":{"name":"box"},
 "mark":{"type":"rect","fill":"white","stroke":"#444444","strokeWidth":1.5,"clip":true},
 "encoding":{"x":{"field":"x","type":"quantitative","axis":null},"x2":{"field":"x2"},"y":{"field":"y","type":"quantitative","axis":null},"y2":{"field":"y2"}}},
{"data":{"name":"pulse"},
 "mark":{"type":"rect","stroke":"#333333","strokeWidth":1},
 "encoding":{"x":{"field":"x","type":"quantitative","axis":null},"x2":{"field":"x2"},"y":{"field":"y","type":"quantitative","axis":null},"y2":{"field":"y2"},
  "fill":{"field":"k","type":"nominal","scale":{"domain":["a","b","c"],"range":["#3c3c3c","#c8c8c8","#c8c8c8"]},"legend":null}}},
{"data":{"name":"ese"},
 "mark":{"type":"line","color":"black","strokeWidth":1.5},
 "encoding":{"x":{"field":"x","type":"quantitative","axis":null},"y":{"field":"y","type":"quantitative","axis":null}}},
{"data":{"name":"arrow"},
 "mark":{"type":"line","color":"black","strokeWidth":1.2},
 "encoding":{"x":{"field":"x","type":"quantitative","axis":null},"y":{"field":"y","type":"quantitative","axis":null},"detail":{"field":"a"}}},
{"data":{"name":"heads"},
 "mark":{"type":"point","filled":true,"color":"black","size":30,"opacity":1},
 "encoding":{"x":{"field":"x","type":"quantitative","axis":null},"y":{"field":"y","type":"quantitative","axis":null},
  "shape":{"field":"d","type":"nominal","scale":{"domain":["l","r"],"range":["triangle-left","triangle-right"]},"legend":null}}},
{"data":{"name":"itxt"},
 "mark":{"type":"text","align":"left","baseline":"alphabetic","fontSize":19,"font":"Liberation Sans","color":"black"},
 "encoding":{"x":{"field":"x","type":"quantitative","axis":null},"y":{"field":"y","type":"quantitative","axis":null},"text":{"field":"t"}}},
{"data":{"name":"itxt2"},
 "mark":{"type":"text","align":"left","baseline":"alphabetic","fontSize":16.5,"font":"Liberation Sans","color":"black"},
 "encoding":{"x":{"field":"x","type":"quantitative","axis":null},"y":{"field":"y","type":"quantitative","axis":null},"text":{"field":"t"}}}
]
}
